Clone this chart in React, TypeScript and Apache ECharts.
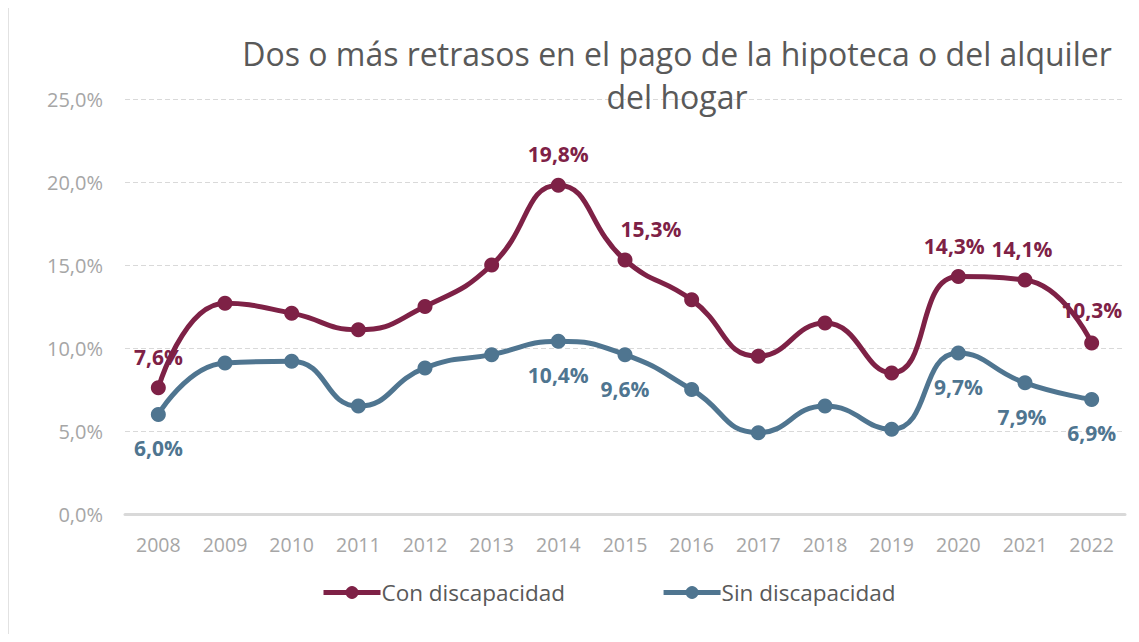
import React, { useEffect, useRef } from "react";
import * as echarts from "echarts";

const years = ["2008","2009","2010","2011","2012","2013","2014","2015","2016","2017","2018","2019","2020","2021","2022"];
const conDisc = [7.6, 12.7, 12.1, 11.1, 12.5, 15.0, 19.8, 15.3, 12.9, 9.5, 11.5, 8.5, 14.3, 14.1, 10.3];
const sinDisc = [6.0, 9.1, 9.2, 6.5, 8.8, 9.6, 10.4, 9.6, 7.5, 4.9, 6.5, 5.1, 9.7, 7.9, 6.9];
const conLabelShown = [true, false, false, false, false, false, true, true, false, false, false, false, true, true, true];
const sinLabelShown = [true, false, false, false, false, false, true, true, false, false, false, false, true, true, true];
const conLabelOffsets: Record<number, number[]> = { 7: [26, 0], 12: [-4, 0], 13: [-3, 0], 14: [0, -2] };
const sinLabelOffsets: Record<number, number[]> = { 13: [-3, 0] };

const CON = "#7E2146";
const SIN = "#4F7590";
const FONT = "Open Sans";
const fmt = (v: number) => v.toFixed(1).replace(".", ",") + "%";

export default function App() {
  const ref = useRef<HTMLDivElement>(null);
  useEffect(() => {
    const chart = echarts.init(ref.current!, null, { renderer: "svg" });
    chart.setOption({
      animation: false,
      backgroundColor: "#fff",
      textStyle: { fontFamily: FONT },
      title: {
        text: "Dos o más retrasos en el pago de la hipoteca o del alquiler\ndel hogar",
        left: 664,
        textAlign: "center",
        top: 19,
        textStyle: { fontFamily: FONT, fontSize: 32, fontWeight: "normal", color: "#595959", lineHeight: 43 },
      },
      graphic: [
        { type: "rect", shape: { x: 0, y: -2, width: 1130, height: 640 }, style: { fill: "none", stroke: "#d9d9d9", lineWidth: 1.5 }, silent: true },
      ],
      legend: {
        left: 308,
        top: 568,
        itemGap: 96,
        itemWidth: 57,
        itemHeight: 16,
        lineStyle: { width: 5 },
        textStyle: { fontFamily: FONT, fontSize: 22.5, color: "#595959", padding: [0, 0, 0, -4] },
        data: ["Con discapacidad", "Sin discapacidad"],
      },
      grid: { left: 117, right: 6, top: 91, bottom: 120, containLabel: false },
      xAxis: {
        type: "category",
        data: years,
        boundaryGap: true,
        axisLine: { lineStyle: { color: "#d9d9d9", width: 3 } },
        axisTick: { show: false },
        axisLabel: { color: "#a6a6a6", fontSize: 19.5, margin: 20, fontFamily: FONT },
      },
      yAxis: {
        type: "value",
        min: 0,
        max: 25,
        interval: 5,
        axisLine: { show: false },
        axisTick: { show: false },
        axisLabel: { color: "#a6a6a6", fontSize: 20, margin: 22, fontFamily: FONT, formatter: (v: number) => fmt(v) },
        splitLine: { lineStyle: { color: "#d9d9d9", type: [5, 3], width: 1 } },
      },
      series: [
        {
          name: "Con discapacidad",
          type: "line",
          smooth: 0.5,
          symbol: "circle",
          symbolSize: 15,
          itemStyle: { color: CON },
          lineStyle: { color: CON, width: 5 },
          data: conDisc.map((v, i) => ({
            value: v,
            label: { show: conLabelShown[i], position: "top", distance: 13, offset: conLabelOffsets[i] || [0, 0], formatter: fmt(v), color: CON, fontWeight: "bold", fontSize: 21, fontFamily: FONT },
          })),
        },
        {
          name: "Sin discapacidad",
          type: "line",
          smooth: 0.5,
          symbol: "circle",
          symbolSize: 15,
          itemStyle: { color: SIN },
          lineStyle: { color: SIN, width: 5 },
          data: sinDisc.map((v, i) => ({
            value: v,
            label: { show: sinLabelShown[i], position: "bottom", distance: 16, offset: sinLabelOffsets[i] || [0, 0], formatter: fmt(v), color: SIN, fontWeight: "bold", fontSize: 21, fontFamily: FONT },
          })),
        },
      ],
    });
    return () => chart.dispose();
  }, []);
  return <div ref={ref} style={{ width: 1123, height: 626 }} />;
}
